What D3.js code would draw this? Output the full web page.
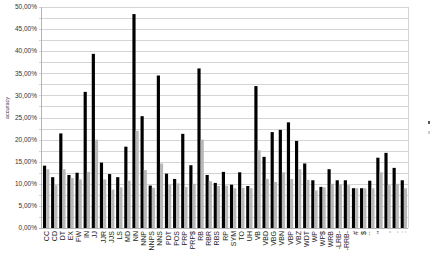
<!DOCTYPE html>
<html lang="en">
<head>
  <meta charset="UTF-8" />
  <title>Accuracy per tag</title>
  <script src="https://d3js.org/d3.v7.min.js"></script>
  <style>
    html, body {
      margin: 0;
      padding: 0;
      background: #fff;
      overflow: hidden;
    }
    svg {
      display: block;
      font-family: "Liberation Sans", Arial, sans-serif;
    }
  </style>
</head>
<body>
  <svg id="chart" width="430" height="256"></svg>

  <script>
    const tags = [
      "CC", "CD", "DT", "EX", "FW", "IN", "JJ", "JJR", "JJS", "LS", "MD", "NN", "NNP",
      "NNPS", "NNS", "PDT", "POS", "PRP", "PRP$", "RB", "RBR", "RBS", "RP", "SYM", "TO",
      "UH", "VB", "VBD", "VBG", "VBN", "VBP", "VBZ", "WDT", "WP", "WP$", "WRB",
      "-LRB-", "-RRB-", "#", "$", "``", "''", ",", ".", ":"
    ];
    // black series
    const accuracyA = [
      14.1, 11.5, 21.4, 12.0, 12.5, 30.8, 39.4, 14.8, 12.2, 11.5, 18.4, 48.4, 25.3,
      9.6, 34.5, 12.3, 11.1, 21.3, 14.2, 36.1, 12.0, 10.2, 12.7, 9.8, 12.6,
      9.5, 32.1, 16.1, 21.7, 22.2, 23.9, 19.7, 14.6, 10.8, 9.3, 13.3,
      10.8, 10.8, 9.0, 9.0, 10.7, 15.9, 17.0, 13.6, 10.8
    ];
    // grey series
    const accuracyB = [
      13.3, 9.7, 13.3, 11.3, 11.0, 12.7, 20.0, 11.0, 8.7, 9.2, 10.7, 22.0, 13.1,
      9.1, 14.6, 9.8, 10.1, 9.3, 10.0, 20.0, 10.6, 9.5, 9.6, 9.0, 9.1,
      9.0, 17.6, 11.1, 10.4, 12.6, 11.1, 13.3, 10.9, 8.5, 9.2, 10.0,
      9.8, 9.7, 9.0, 9.0, 9.0, 12.6, 9.7, 10.0, 9.0
    ];
    const seriesNames = ["accuracyA", "accuracyB"];
    const yMax = 50;

    const svg = d3.select("#chart");
    const margin = {top: 7, right: 22, bottom: 28, left: 42};
    const width = 430 - margin.left - margin.right;
    const height = 256 - margin.top - margin.bottom;

    const g = svg.append("g")
      .attr("transform", `translate(${margin.left},${margin.top})`);

    const x = d3.scaleBand()
      .domain(tags)
      .range([0, width])
      .paddingInner(0.22)
      .paddingOuter(0.12);

    const xInner = d3.scaleBand()
      .domain(seriesNames)
      .range([0, x.bandwidth()])
      .padding(0);

    const y = d3.scaleLinear()
      .domain([0, yMax])
      .range([height, 0]);

    const fmt = v => d3.format(".2f")(v).replace(".", ",") + "%";

    // grid lines every 2.5%
    g.append("g")
      .selectAll("line")
      .data(d3.range(0, yMax + 0.01, 2.5))
      .join("line")
      .attr("x1", -3)
      .attr("x2", width)
      .attr("y1", d => Math.round(y(d)) + 0.5)
      .attr("y2", d => Math.round(y(d)) + 0.5)
      .attr("stroke", "#d4d4d4")
      .attr("stroke-width", 1);

    // frame sides
    g.append("line")
      .attr("x1", -0.5).attr("x2", -0.5)
      .attr("y1", 0).attr("y2", height)
      .attr("stroke", "#b3b3b3");
    g.append("line")
      .attr("x1", width + 0.5).attr("x2", width + 0.5)
      .attr("y1", 0).attr("y2", height)
      .attr("stroke", "#d4d4d4");

    // y tick labels
    g.append("g")
      .selectAll("text")
      .data(d3.range(0, yMax + 0.01, 5))
      .join("text")
      .attr("x", -5)
      .attr("y", d => y(d))
      .attr("dy", "0.35em")
      .attr("text-anchor", "end")
      .attr("font-size", "6.5px")
      .attr("fill", "#333")
      .text(fmt);

    // bars
    const groups = g.append("g")
      .selectAll("g")
      .data(tags.map((t, i) => ({tag: t, values: [accuracyA[i], accuracyB[i]]})))
      .join("g")
      .attr("transform", d => `translate(${x(d.tag)},0)`);

    groups.selectAll("rect")
      .data(d => d.values.map((v, j) => ({key: seriesNames[j], value: v})))
      .join("rect")
      .attr("x", d => xInner(d.key))
      .attr("width", xInner.bandwidth())
      .attr("y", d => y(d.value))
      .attr("height", d => height - y(d.value))
      .attr("fill", d => d.key === seriesNames[0] ? "#000" : "#b8b8b8");

    // baseline
    g.append("line")
      .attr("x1", -3).attr("x2", width)
      .attr("y1", height + 0.5).attr("y2", height + 0.5)
      .attr("stroke", "#b3b3b3");

    // x labels, rotated
    g.append("g")
      .selectAll("text")
      .data(tags)
      .join("text")
      .attr("transform", d => `translate(${x(d) + x.bandwidth() / 2 + 2.5},${height + 3}) rotate(-90)`)
      .attr("text-anchor", "end")
      .attr("font-size", "7px")
      .attr("fill", "#222")
      .text(d => d);

    // y axis title
    svg.append("text")
      .attr("transform", "translate(9,108) rotate(-90)")
      .attr("text-anchor", "middle")
      .attr("font-size", "5.5px")
      .attr("fill", "#333")
      .text("accuracy");

    // legend (mostly outside the window)
    const legend = svg.append("g")
      .attr("transform", "translate(428,121)");
    legend.selectAll("rect")
      .data(seriesNames)
      .join("rect")
      .attr("x", 0)
      .attr("y", (d, i) => i * 10)
      .attr("width", 4)
      .attr("height", 3)
      .attr("fill", (d, i) => i === 0 ? "#555" : "#ccc");
  </script>
</body>
</html>
